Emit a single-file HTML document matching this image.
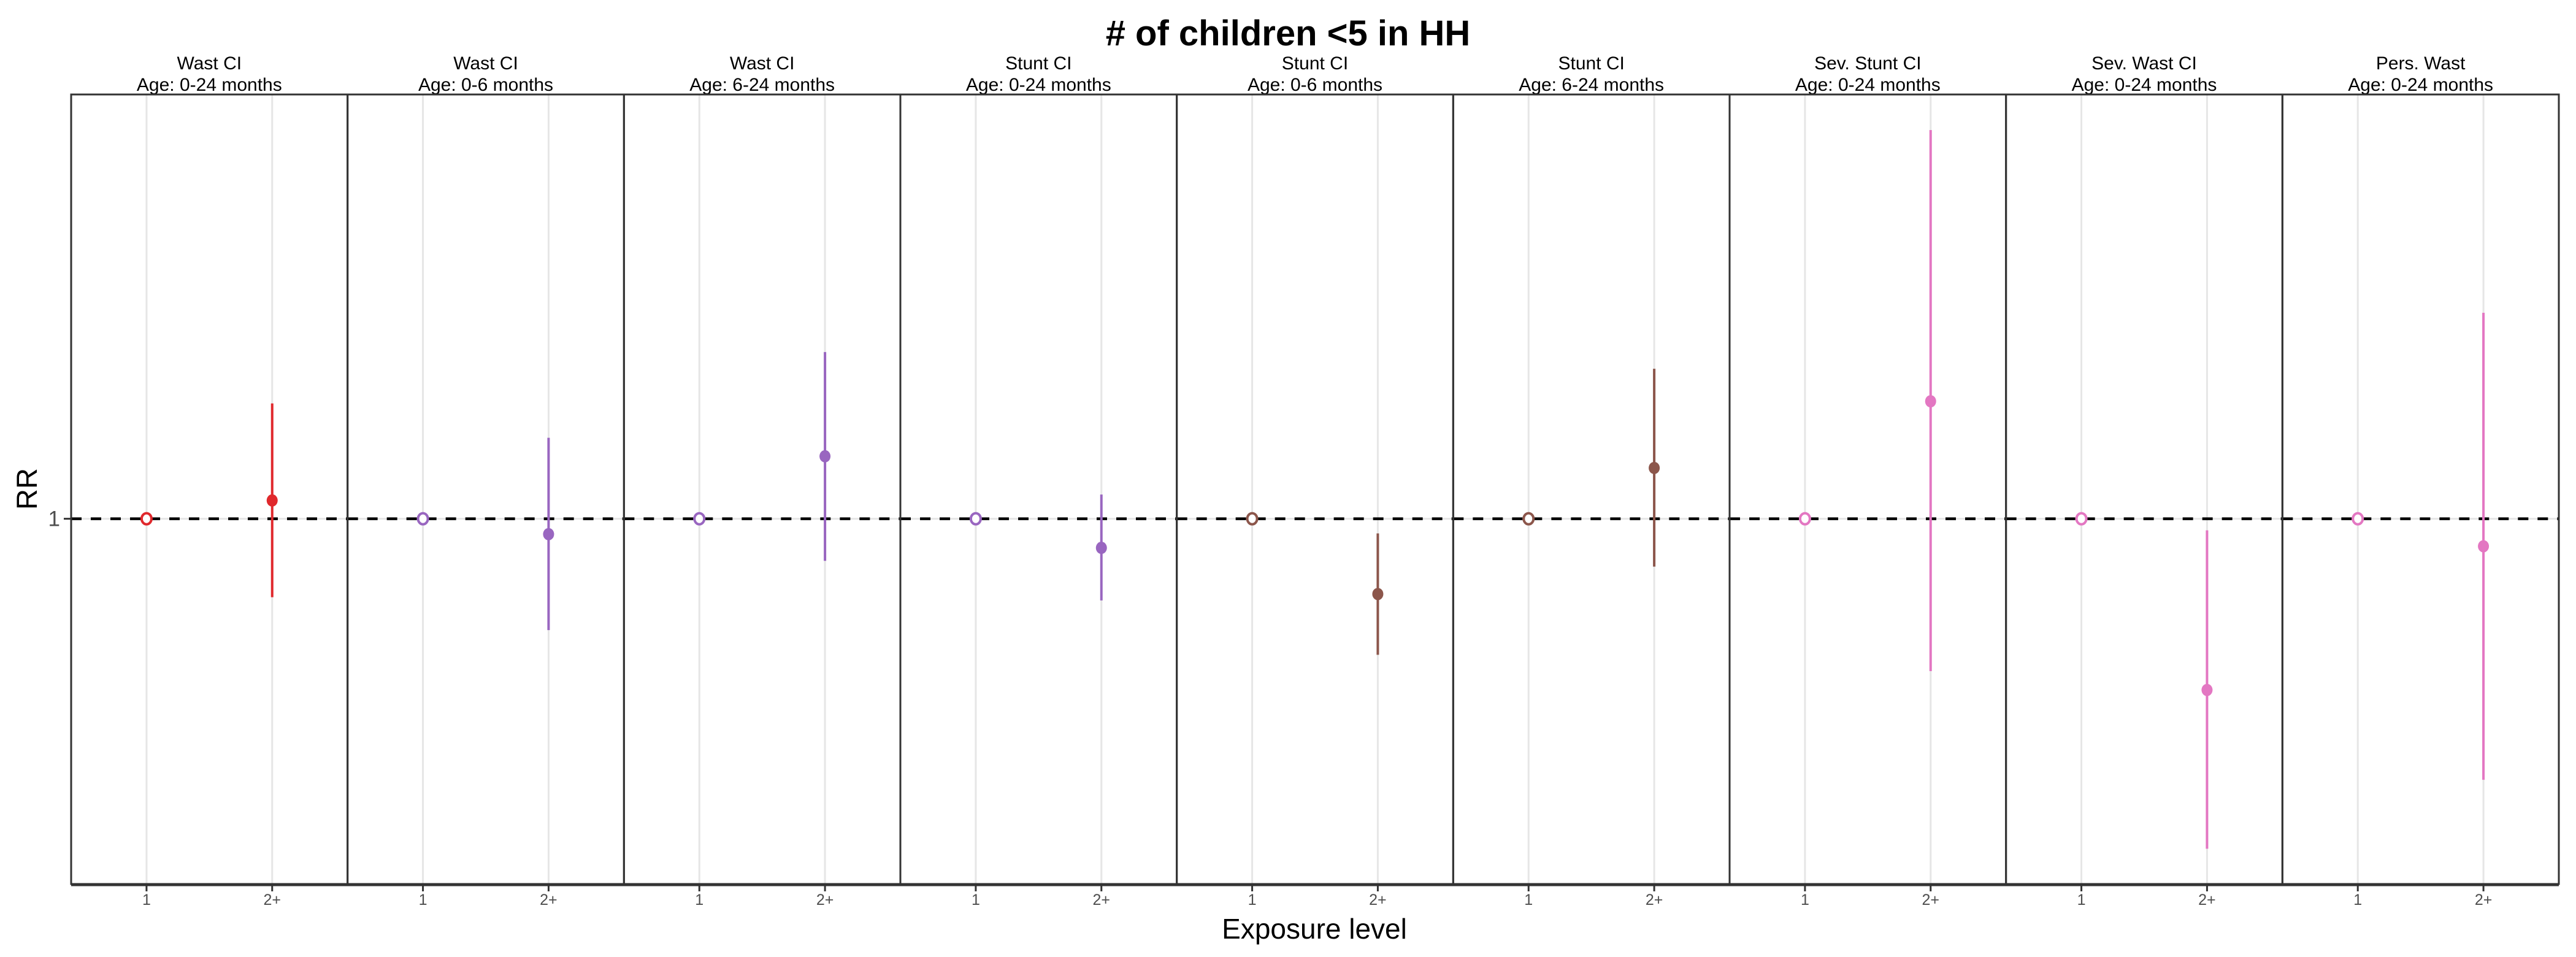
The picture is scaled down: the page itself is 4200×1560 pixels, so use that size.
<!DOCTYPE html>
<html><head><meta charset="utf-8"><style>
html,body{margin:0;padding:0;background:#fff;}
svg{display:block;font-family:"Liberation Sans",Arial,sans-serif;}
</style></head><body>
<svg id="chart" width="4200" height="1560" viewBox="0 0 4200 1560" xmlns="http://www.w3.org/2000/svg">
<rect x="0" y="0" width="4200" height="1560" fill="#fff"/>
<text x="2100" y="74" text-anchor="middle" font-size="58" font-weight="bold" fill="#000"># of children &lt;5 in HH</text>
<text transform="translate(60,797) rotate(-90)" text-anchor="middle" font-size="47" fill="#000">RR</text>
<text x="2143" y="1530" text-anchor="middle" font-size="46" fill="#000">Exposure level</text>
<g id="panels"></g>
</svg>
<script>
const outcomes = ["Wast CI","Wast CI","Wast CI","Stunt CI","Stunt CI","Stunt CI","Sev. Stunt CI","Sev. Wast CI","Pers. Wast"];
const ages = ["Age: 0-24 months","Age: 0-6 months","Age: 6-24 months","Age: 0-24 months","Age: 0-6 months","Age: 6-24 months","Age: 0-24 months","Age: 0-24 months","Age: 0-24 months"];
const categories = ["1","2+"];
const estimates = [1.051,0.959,1.185,0.924,0.815,1.148,1.376,0.628,0.928];
const ciLower = [0.808,0.739,0.892,0.801,0.691,0.878,0.661,0.408,0.492];
const ciUpper = [1.368,1.246,1.573,1.068,0.961,1.503,2.875,0.969,1.750];
const colors = ["#E0282C","#9966C0","#9966C0","#9966C0","#8C564B","#8C564B","#E377C2","#E377C2","#E377C2"];
const yTicks = [1];

const NS="http://www.w3.org/2000/svg";
const plotLeft=116, plotRight=4172, plotTop=154, plotBottom=1441;
const pw=(plotRight-plotLeft)/outcomes.length;
const yMin=Math.log(0.3707), yMax=Math.log(3.167);
function yScale(v){return plotBottom-(Math.log(v)-yMin)/(yMax-yMin)*(plotBottom-plotTop);}
function xScale(p,ci){return plotLeft+p*pw+pw*(0.6+ci)/2.2;}
function mk(tag,attrs,parent){const e=document.createElementNS(NS,tag);for(const k in attrs)e.setAttribute(k,attrs[k]);parent.appendChild(e);return e;}
const panelGroup=document.getElementById('panels');
for(let p=0;p<outcomes.length;p++){
  const x0=plotLeft+p*pw;
  const pg=mk('g',{},panelGroup);
  
  
  for(let c=0;c<categories.length;c++){
    const gl=mk('line',{x1:xScale(p,c),x2:xScale(p,c),y1:plotTop,y2:plotBottom,stroke:'#e6e6e6','stroke-width':3},pg);
    
    
  }
  for(const t of yTicks){
    const hg=mk('line',{x1:x0,x2:x0+pw,y1:yScale(t),y2:yScale(t),stroke:'#e6e6e6','stroke-width':3},pg);
    
    
  }
  const rl=mk('line',{x1:x0,x2:x0+pw,y1:yScale(1),y2:yScale(1),stroke:'#000','stroke-width':4.5,'stroke-dasharray':'17 15'},pg);
  
  
  const s1=mk('text',{x:x0+pw/2,y:113,'text-anchor':'middle','font-size':30,fill:'#000'},pg);
  s1.textContent=outcomes[p];
  
  
  const s2=mk('text',{x:x0+pw/2,y:148,'text-anchor':'middle','font-size':30,fill:'#000'},pg);
  s2.textContent=ages[p];
  
  
  const cx=xScale(p,1);
  const ci=mk('line',{x1:cx,x2:cx,y1:yScale(ciUpper[p]),y2:yScale(ciLower[p]),stroke:colors[p],'stroke-width':4},pg);
  
  
  const pt=mk('ellipse',{cx:cx,cy:yScale(estimates[p]),rx:9,ry:10,fill:colors[p]},pg);
  
  
  const rp=mk('ellipse',{cx:xScale(p,0),cy:yScale(1),rx:8,ry:9,fill:'#fff',stroke:colors[p],'stroke-width':4},pg);
  
  
  const b=mk('rect',{x:x0,y:plotTop,width:pw,height:plotBottom-plotTop,fill:'none',stroke:'#333','stroke-width':3},pg);
  
  
  for(let c=0;c<categories.length;c++){
    const tk=mk('line',{x1:xScale(p,c),x2:xScale(p,c),y1:plotBottom,y2:plotBottom+12,stroke:'#333','stroke-width':3},pg);
    
    
    const tl=mk('text',{x:xScale(p,c),y:1475,'text-anchor':'middle','font-size':25,fill:'#4d4d4d'},pg);
    tl.textContent=categories[c];
    
    
  }
}
const ax=mk('line',{x1:plotLeft,x2:plotRight,y1:plotBottom+1,y2:plotBottom+1,stroke:'#333','stroke-width':5},panelGroup);


for(const t of yTicks){
  const tk=mk('line',{x1:plotLeft-12,x2:plotLeft,y1:yScale(t),y2:yScale(t),stroke:'#333','stroke-width':3},panelGroup);
  
  
  const tl=mk('text',{x:plotLeft-18,y:yScale(t)+12,'text-anchor':'end','font-size':35,fill:'#4d4d4d'},panelGroup);
  tl.textContent=String(t);
  
  
}
</script>
</body></html>
